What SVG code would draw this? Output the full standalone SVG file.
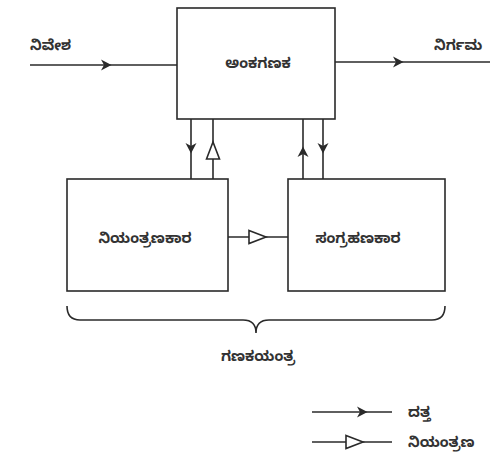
<svg xmlns="http://www.w3.org/2000/svg" width="497" height="464" viewBox="0 0 497 464">
  <style>
    .box { fill: #ffffff; stroke: #2a2a2a; stroke-width: 1.6; }
    .wire { fill: none; stroke: #2a2a2a; stroke-width: 1.6; }
    .data { marker-mid: url(#dataHead); }
    .ctrl { marker-mid: url(#ctrlHead); }
    .lbl { font-family: "Noto Sans Kannada", "Noto Sans", "DejaVu Sans", sans-serif; font-size: 14.5px; font-weight: bold; fill: #333333; }
  </style>
  <defs>
    <!-- filled barbed head for data flow -->
    <marker id="dataHead" markerUnits="userSpaceOnUse" markerWidth="20" markerHeight="20" viewBox="-10 -10 20 20" refX="0" refY="0" orient="auto" overflow="visible">
      <path d="M-9,-5.5 L1.5,0 L-9,5.5 L-6,0 Z" fill="#2a2a2a"/>
    </marker>
    <!-- open triangle for control flow -->
    <marker id="ctrlHead" markerUnits="userSpaceOnUse" markerWidth="24" markerHeight="24" viewBox="-12 -12 24 24" refX="0" refY="0" orient="auto" overflow="visible">
      <path d="M-9,-6.5 L8,0 L-9,6.5 Z" fill="#ffffff" stroke="#2a2a2a" stroke-width="1.6"/>
    </marker>
  </defs>

  <rect width="497" height="464" fill="#ffffff"/>

  <g id="connectors">
    <!-- input / output -->
    <polyline class="wire data" points="30,65 110,65 177,65"/>
    <polyline class="wire data" points="335,62 402,62 490,62"/>
    <!-- top unit to left unit -->
    <polyline class="wire data" points="191,119 191,152 191,179"/>
    <polyline class="wire ctrl" points="213,179 213,150 213,119"/>
    <!-- top unit to right unit -->
    <polyline class="wire data" points="303,179 303,148 303,119"/>
    <polyline class="wire data" points="323,119 323,152 323,179"/>
    <!-- left unit to right unit -->
    <polyline class="wire ctrl" points="228,237 258,237 288,237"/>
    <!-- brace under both lower units -->
    <path class="wire" d="M67,306 Q67,320 80,320 L243,320 Q256,320 256,333 Q256,320 269,320 L432,320 Q445,320 445,306"/>
    <!-- key -->
    <polyline class="wire data" points="312,412 366,412 392,412"/>
    <polyline class="wire ctrl" points="312,442 355,442 392,442"/>
  </g>

  <g id="top-unit">
    <rect class="box" x="177" y="8" width="158" height="111"/>
    <text class="lbl" x="258" y="68" text-anchor="middle">ಅಂಕಗಣಕ</text>
  </g>

  <g id="left-unit">
    <rect class="box" x="67" y="179" width="161" height="112"/>
    <text class="lbl" x="145" y="243" text-anchor="middle">ನಿಯಂತ್ರಣಕಾರ</text>
  </g>

  <g id="right-unit">
    <rect class="box" x="288" y="179" width="157" height="112"/>
    <text class="lbl" x="358" y="243" text-anchor="middle">ಸಂಗ್ರಹಣಕಾರ</text>
  </g>

  <g id="labels">
    <text class="lbl" x="30" y="50">ನಿವೇಶ</text>
    <text class="lbl" x="434" y="50">ನಿರ್ಗಮ</text>
    <text class="lbl" x="258" y="361" text-anchor="middle">ಗಣಕಯಂತ್ರ</text>
    <text class="lbl" x="408" y="417">ದತ್ತ</text>
    <text class="lbl" x="408" y="447">ನಿಯಂತ್ರಣ</text>
  </g>
</svg>
